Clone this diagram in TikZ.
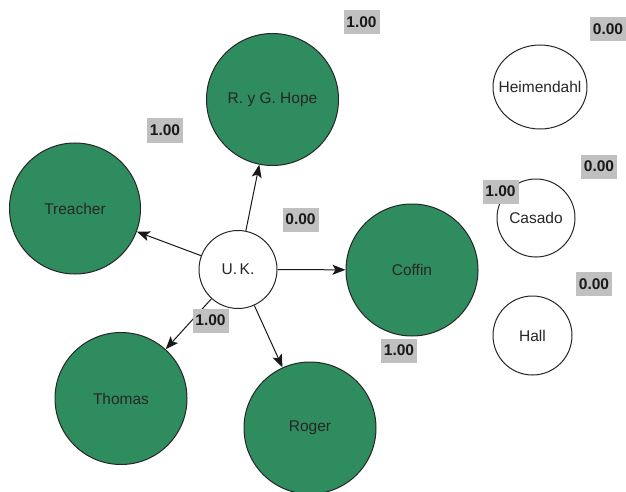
\documentclass[tikz,border=0pt]{standalone}
\usepackage{fontspec}
\setmainfont{Liberation Sans}
\usetikzlibrary{arrows.meta,shapes.geometric}
\definecolor{nodegreen}{HTML}{2F8C5F}
\definecolor{labgray}{HTML}{C0C0C0}
\tikzset{
  gnode/.style={circle,draw=black!85,line width=1pt,fill=nodegreen,inner sep=0pt,
    font=\fontsize{15.5}{17}\selectfont,text=black!85},
  wnode/.style={circle,draw=black!85,line width=1pt,fill=white,inner sep=0pt,
    font=\fontsize{15.5}{17}\selectfont,text=black!85},
  lab/.style={rectangle,fill=labgray,inner sep=0pt,minimum width=36pt,minimum height=24pt,
    font=\bfseries\fontsize{15.5}{17}\selectfont,text=black!90},
  edge/.style={line width=1pt,draw=black!90,-{Stealth[length=13pt,width=10pt,inset=3pt]}}
}
\begin{document}
\begin{tikzpicture}[x=1pt,y=-1pt]
\useasboundingbox (0,0) rectangle (626,492);
\fill[white] (0,0) rectangle (626,492);
% nodes
\node[wnode,minimum size=78pt] (uk) at (238,269.5) {U.\,K.};
\node[gnode,minimum size=132pt] (hope) at (272.5,99.5) {R. y G. Hope};
\node[gnode,minimum size=131pt] (treacher) at (75,208.5) {Treacher};
\node[gnode,minimum size=132pt] (coffin) at (412,270) {Coffin};
\node[gnode,minimum size=132pt] (thomas) at (121,398.5) {Thomas};
\node[gnode,minimum size=132pt] (roger) at (310,428) {Roger};
\node[ellipse,draw=black!85,line width=1pt,fill=white,inner sep=0pt,minimum width=94pt,minimum height=84pt,
  font=\fontsize{15.5}{17}\selectfont,text=black!85] (heim) at (540,87) {\makebox[0pt]{Heimendahl}};
\node[wnode,minimum size=78pt] (casado) at (536,218) {Casado};
\node[wnode,minimum size=79pt] (hall) at (532.5,335.5) {Hall};
% edges
\draw[edge] (uk) -- (hope);
\draw[edge] (uk) -- (treacher);
\draw[edge] (uk) -- (coffin);
\draw[edge] (uk) -- (thomas);
\draw[edge] (uk) -- (roger);
% labels
\node[lab] (l1) at (361.5,22) {1.00};
\node[lab] (l2) at (608,29.5) {0.00};
\node[lab] (l3) at (165,130.5) {1.00};
\node[lab] (l4) at (599,166.5) {0.00};
\node[lab] (l5) at (300.5,219.5) {0.00};
\node[lab] (l6) at (500.5,191.5) {1.00};
\node[lab] (l7) at (594,284) {0.00};
\node[lab] (l8) at (210.5,320.5) {1.00};
\node[lab] (l9) at (399,350.5) {1.00};
\end{tikzpicture}
\end{document}
